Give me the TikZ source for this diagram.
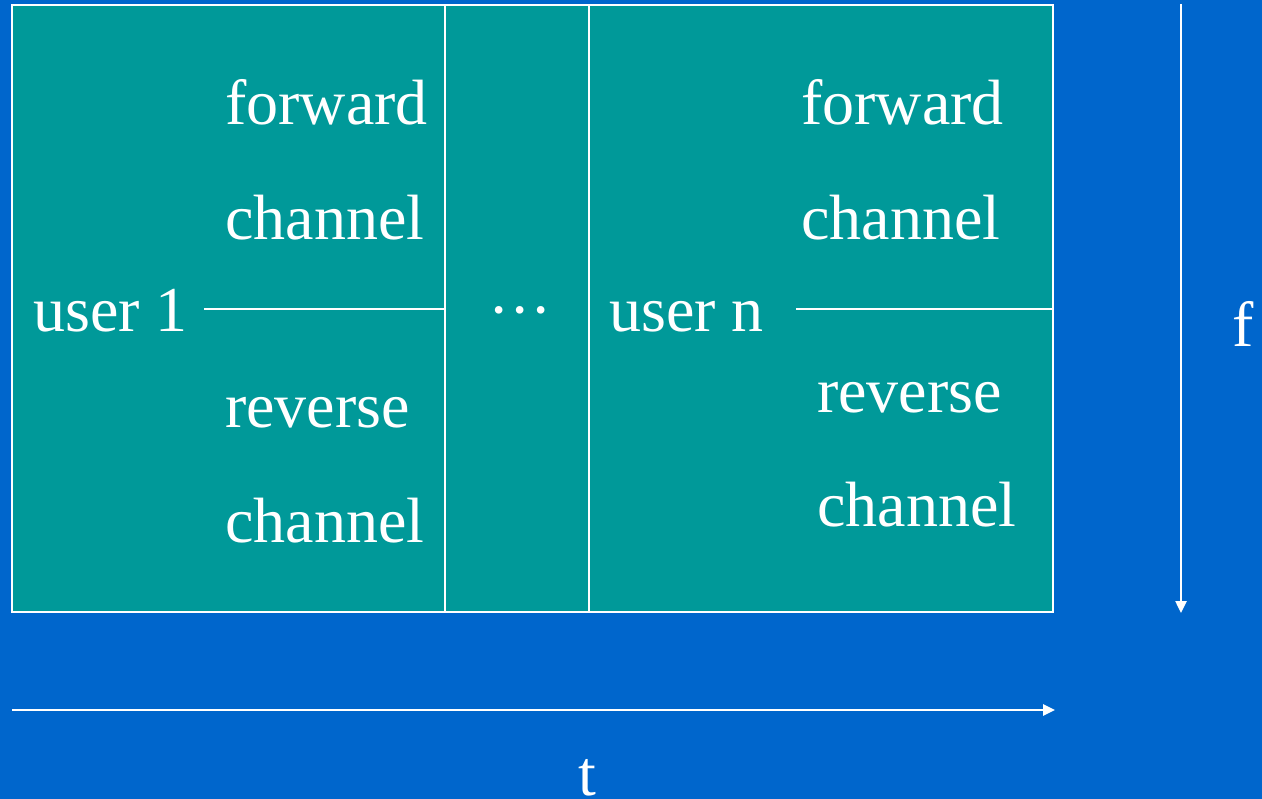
\documentclass[tikz,border=0pt]{standalone}
\usepackage{fontspec}
\setmainfont{Liberation Serif}
\usetikzlibrary{arrows.meta}
\definecolor{bgblue}{HTML}{0066CC}
\definecolor{teal}{HTML}{009999}
\begin{document}
\begin{tikzpicture}[x=1pt,y=-1pt,
  lbl/.style={anchor=base west,inner sep=0pt,text=white,font=\fontsize{64}{70}\selectfont},
  wl/.style={draw=white,line width=2.5pt},
  axis/.style={draw=white,line width=2.5pt,-{Triangle[length=12pt,width=11pt]}}]
\fill[bgblue] (0,0) rectangle (1262,799);
\useasboundingbox (0,0) rectangle (1262,799);
\fill[teal] (12,5) rectangle (1053,612);
\draw[wl] (12,5) rectangle (1053,612);
\draw[wl] (445,5) -- (445,612);
\draw[wl] (589,5) -- (589,612);
\draw[wl] (204,309) -- (445,309);
\draw[wl] (796,309) -- (1053,309);
\node[lbl] (f1) at (225,125) {forward};
\node[lbl] (c1) at (225,240) {channel};
\node[lbl] (u1) at (33,332) {user 1};
\node[lbl] (r1) at (225,428) {reverse};
\node[lbl] (c2) at (225,543) {channel};
\node[lbl] (f2) at (801,125) {forward};
\node[lbl] (c3) at (801,240) {channel};
\node[lbl] (un) at (609,332) {user n};
\node[lbl] (r2) at (817,413) {reverse};
\node[lbl] (c4) at (817,527) {channel};
\node[lbl,anchor=base] (dots) at (520,332) {···};
\node[lbl] (fl) at (1232,347) {f};
\node[lbl,anchor=base] (tl) at (587,795) {t};
\coordinate (fa) at (1181,4);
\coordinate (fb) at (1181,613);
\coordinate (ta) at (12,710);
\coordinate (tb) at (1055,710);
\draw[axis] (fa) -- (fb);
\draw[axis] (ta) -- (tb);
\end{tikzpicture}
\end{document}
